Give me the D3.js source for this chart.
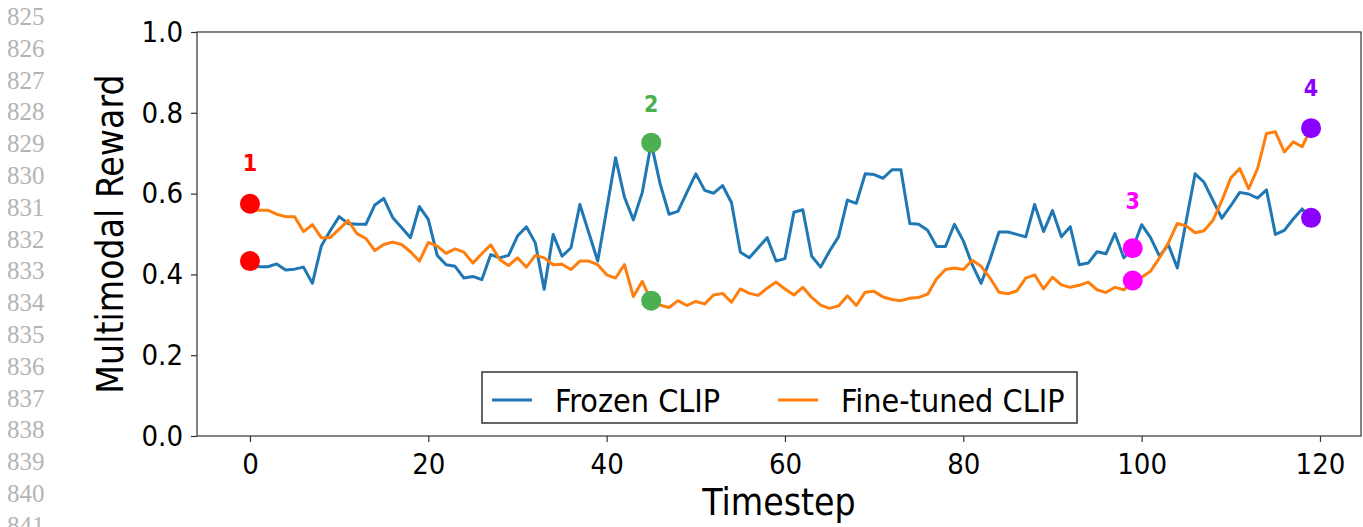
<!DOCTYPE html>
<html>
<head>
<meta charset="utf-8">
<script src="https://cdn.jsdelivr.net/npm/d3@7"></script>
<style>
  body { margin: 0; background: #fff; }
  svg { display: block; }
</style>
</head>
<body>
<div id="chart"></div>
<script>
// series values, timesteps 0..119
var frozen = [
  0.43, 0.419, 0.419, 0.426, 0.411, 0.413, 0.418, 0.378, 0.47, 0.508,
  0.543, 0.526, 0.524, 0.524, 0.572, 0.588, 0.541, 0.516, 0.491, 0.568,
  0.536, 0.447, 0.424, 0.42, 0.391, 0.395, 0.387, 0.449, 0.441, 0.447,
  0.495, 0.518, 0.478, 0.363, 0.499, 0.445, 0.466, 0.573, 0.503, 0.433,
  0.56, 0.689, 0.591, 0.535, 0.603, 0.725, 0.624, 0.549, 0.556, 0.603,
  0.649, 0.608, 0.601, 0.62, 0.578, 0.455, 0.441, 0.466, 0.491, 0.433,
  0.439, 0.554, 0.56, 0.445, 0.418, 0.458, 0.493, 0.584, 0.576, 0.649,
  0.647, 0.638, 0.659, 0.659, 0.526, 0.524, 0.509, 0.469, 0.469, 0.524,
  0.483, 0.424, 0.378, 0.437, 0.505, 0.505, 0.499, 0.493, 0.573, 0.506,
  0.558, 0.493, 0.518, 0.424, 0.428, 0.456, 0.451, 0.501, 0.441, 0.464,
  0.523, 0.491, 0.445, 0.473, 0.416, 0.533, 0.649, 0.628, 0.583, 0.539,
  0.57, 0.603, 0.599, 0.589, 0.609, 0.499, 0.509, 0.537, 0.562, 0.539
];
var finetuned = [
  0.56, 0.559, 0.559, 0.549, 0.543, 0.543, 0.506, 0.523, 0.491, 0.491,
  0.512, 0.533, 0.501, 0.489, 0.459, 0.474, 0.48, 0.474, 0.456, 0.433,
  0.479, 0.47, 0.452, 0.463, 0.455, 0.428, 0.451, 0.473, 0.437, 0.422,
  0.441, 0.418, 0.447, 0.441, 0.424, 0.425, 0.412, 0.433, 0.433, 0.424,
  0.399, 0.391, 0.424, 0.345, 0.383, 0.333, 0.324, 0.318, 0.335, 0.323,
  0.333, 0.327, 0.349, 0.353, 0.331, 0.364, 0.353, 0.348, 0.366, 0.381,
  0.364, 0.349, 0.368, 0.343, 0.324, 0.316, 0.322, 0.347, 0.323, 0.356,
  0.358, 0.344, 0.338, 0.335, 0.341, 0.343, 0.351, 0.389, 0.412, 0.416,
  0.412, 0.435, 0.42, 0.391, 0.356, 0.352, 0.359, 0.391, 0.399, 0.364,
  0.393, 0.374, 0.368, 0.373, 0.381, 0.362, 0.355, 0.368, 0.362, 0.38,
  0.393, 0.408, 0.441, 0.478, 0.526, 0.52, 0.503, 0.508, 0.534, 0.583,
  0.639, 0.662, 0.612, 0.662, 0.749, 0.753, 0.703, 0.728, 0.716, 0.762
];

// highlighted timesteps
var markSteps = [0, 45, 99, 119];
var markTop = [0.575, 0.726, 0.465, 0.762];
var markBottom = [0.433, 0.335, 0.385, 0.54];
var markLabels = ["1", "2", "3", "4"];
var markLabelY = [0.676, 0.823, 0.582, 0.861];
var markColors = ["#ff0000", "#4caf50", "#ff00ff", "#8b00ff"];

var seriesNames = ["Frozen CLIP", "Fine-tuned CLIP"];
var seriesColors = ["#1f77b4", "#ff7f0e"];

var xTicks = [0, 20, 40, 60, 80, 100, 120];
var yTicks = [0.0, 0.2, 0.4, 0.6, 0.8, 1.0];
var lineNumbers = d3.range(825, 842);

var width = 1363, height = 527;
var FONT = "'DejaVu Sans Condensed', 'DejaVu Sans', sans-serif";

var svg = d3.select("#chart").append("svg")
    .attr("width", width)
    .attr("height", height);

// page line numbers on the left margin
svg.append("g").selectAll("text")
    .data(lineNumbers)
  .enter().append("text")
    .attr("x", 7)
    .attr("y", function(d, i) { return 25 + i * 31.8; })
    .attr("font-family", "'Liberation Serif', 'Times New Roman', serif")
    .attr("font-size", 25)
    .attr("fill", "#b4b4b4")
    .text(function(d) { return d; });

var x = d3.scaleLinear().domain([-5.94, 124.6]).range([197, 1361]);
var y = d3.scaleLinear().domain([0, 1]).range([436, 32]);

var g = svg.append("g");

g.append("g")
    .attr("transform", "translate(0," + y(0) + ")")
    .call(d3.axisBottom(x).tickValues(xTicks).tickSize(6).tickSizeOuter(0).tickPadding(11))
    .call(function(s) {
      s.select(".domain").remove();
      s.selectAll("line").attr("stroke", "#333").attr("stroke-width", 1.2);
      s.selectAll("text").attr("font-family", FONT).attr("font-stretch", "condensed")
        .attr("font-size", 29).attr("fill", "#000");
    });

g.append("g")
    .attr("transform", "translate(" + x.range()[0] + ",0)")
    .call(d3.axisLeft(y).tickValues(yTicks).tickFormat(d3.format(".1f")).tickSize(6).tickSizeOuter(0).tickPadding(8))
    .call(function(s) {
      s.select(".domain").remove();
      s.selectAll("line").attr("stroke", "#333").attr("stroke-width", 1.2);
      s.selectAll("text").attr("font-family", FONT).attr("font-stretch", "condensed")
        .attr("font-size", 29).attr("fill", "#000");
    });

// frame
g.append("rect")
    .attr("x", x.range()[0])
    .attr("y", y(1))
    .attr("width", x.range()[1] - x.range()[0])
    .attr("height", y(0) - y(1))
    .attr("fill", "none")
    .attr("stroke", "#333")
    .attr("stroke-width", 1.2);

var line = d3.line()
    .x(function(d, i) { return x(i); })
    .y(function(d) { return y(d); });

[frozen, finetuned].forEach(function(s, k) {
  g.append("path")
      .datum(s)
      .attr("d", line)
      .attr("fill", "none")
      .attr("stroke", seriesColors[k])
      .attr("stroke-width", 3)
      .attr("stroke-linejoin", "round");
});

// markers
markSteps.forEach(function(t, i) {
  [markTop[i], markBottom[i]].forEach(function(v) {
    g.append("circle")
        .attr("cx", x(t))
        .attr("cy", y(v))
        .attr("r", 10)
        .attr("fill", markColors[i]);
  });
  g.append("text")
      .attr("x", x(t))
      .attr("y", y(markLabelY[i]))
      .attr("dy", "0.36em")
      .attr("text-anchor", "middle")
      .attr("font-family", FONT)
      .attr("font-weight", "bold")
      .attr("font-size", 23)
      .attr("fill", markColors[i])
      .text(markLabels[i]);
});

// axis labels
svg.append("text")
    .attr("x", (x.range()[0] + x.range()[1]) / 2)
    .attr("y", 515)
    .attr("text-anchor", "middle")
    .attr("font-family", FONT).attr("font-stretch", "condensed")
    .attr("font-size", 37)
    .text("Timestep");

svg.append("text")
    .attr("transform", "translate(123," + (y(0) + y(1)) / 2 + ") rotate(-90)")
    .attr("text-anchor", "middle")
    .attr("font-family", FONT).attr("font-stretch", "condensed")
    .attr("font-size", 37)
    .text("Multimodal Reward");

// legend
var lg = svg.append("g").attr("transform", "translate(482,372)");
lg.append("rect")
    .attr("width", 595)
    .attr("height", 51)
    .attr("fill", "#fff")
    .attr("stroke", "#333")
    .attr("stroke-width", 1.5);
var legendX = [10, 296];
seriesNames.forEach(function(n, k) {
  lg.append("line")
      .attr("x1", legendX[k]).attr("x2", legendX[k] + 40)
      .attr("y1", 28).attr("y2", 28)
      .attr("stroke", seriesColors[k])
      .attr("stroke-width", 3);
  lg.append("text")
      .attr("x", legendX[k] + 63)
      .attr("y", 28)
      .attr("dy", "0.36em")
      .attr("font-family", FONT).attr("font-stretch", "condensed")
      .attr("font-size", 32)
      .text(n);
});
</script>
</body>
</html>
